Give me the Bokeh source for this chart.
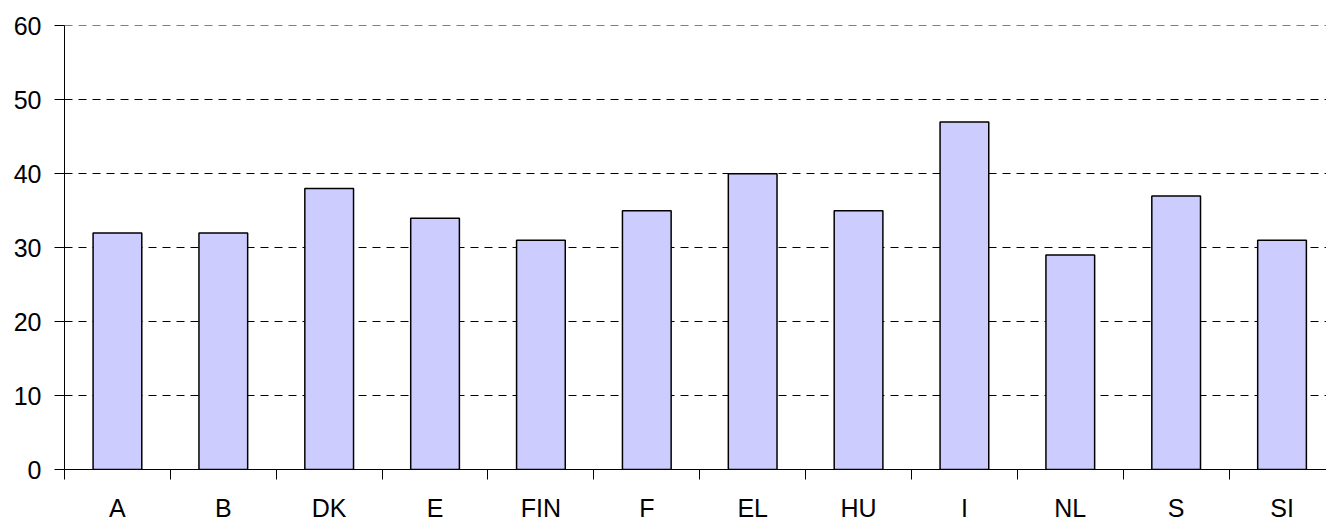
from bokeh.plotting import figure
from bokeh.models import Range1d, FixedTicker, ColumnDataSource
from bokeh.embed import file_html
from bokeh.resources import INLINE

categories = ["A", "B", "DK", "E", "FIN", "F", "EL", "HU", "I", "NL", "S", "SI"]
values = [32, 32, 38, 34, 31, 35, 40, 35, 47, 29, 37, 31]
y_ticks = [0, 10, 20, 30, 40, 50, 60]

x_pos = [i + 0.5 for i in range(len(categories))]
boundaries = list(range(len(categories) + 1))
src = ColumnDataSource(dict(x=x_pos, top=values, cat=categories))

p = figure(width=1326, height=524, output_backend="svg", toolbar_location=None,
           x_range=Range1d(0, 11.92), y_range=Range1d(0, 60.06),
           min_border_left=64, min_border_right=0, min_border_top=25,
           min_border_bottom=53)
p.outline_line_color = None
p.background_fill_color = "white"
p.border_fill_color = "white"

p.vbar(x="x", top="top", bottom=0, width=0.46, source=src,
       fill_color="#CCCCFF", line_color="black", line_width=1.5)

font = "Liberation Sans"

xa = p.xaxis[0]
xa.ticker = FixedTicker(ticks=x_pos, minor_ticks=boundaries)
xa.major_label_overrides = {x: c for x, c in zip(x_pos, categories)}
xa.major_tick_line_color = None
xa.major_tick_out = 0
xa.major_tick_in = 0
xa.minor_tick_out = 10
xa.minor_tick_in = 0
xa.minor_tick_line_color = "black"
xa.axis_line_color = "black"
xa.major_label_text_font = font
xa.major_label_text_font_size = "25px"
xa.major_label_text_color = "black"
xa.major_label_standoff = 14

ya = p.yaxis[0]
ya.ticker = FixedTicker(ticks=y_ticks)
ya.major_tick_out = 10
ya.major_tick_in = 0
ya.major_tick_line_color = "black"
ya.minor_tick_line_color = None
ya.axis_line_color = "black"
ya.major_label_text_font = font
ya.major_label_text_font_size = "25px"
ya.major_label_text_color = "black"
ya.major_label_standoff = 13

p.xgrid.visible = False
p.ygrid.grid_line_color = "black"
p.ygrid.grid_line_dash = "8 6"
p.ygrid.grid_line_width = 1

open("out.html", "w").write(file_html(p, INLINE))
